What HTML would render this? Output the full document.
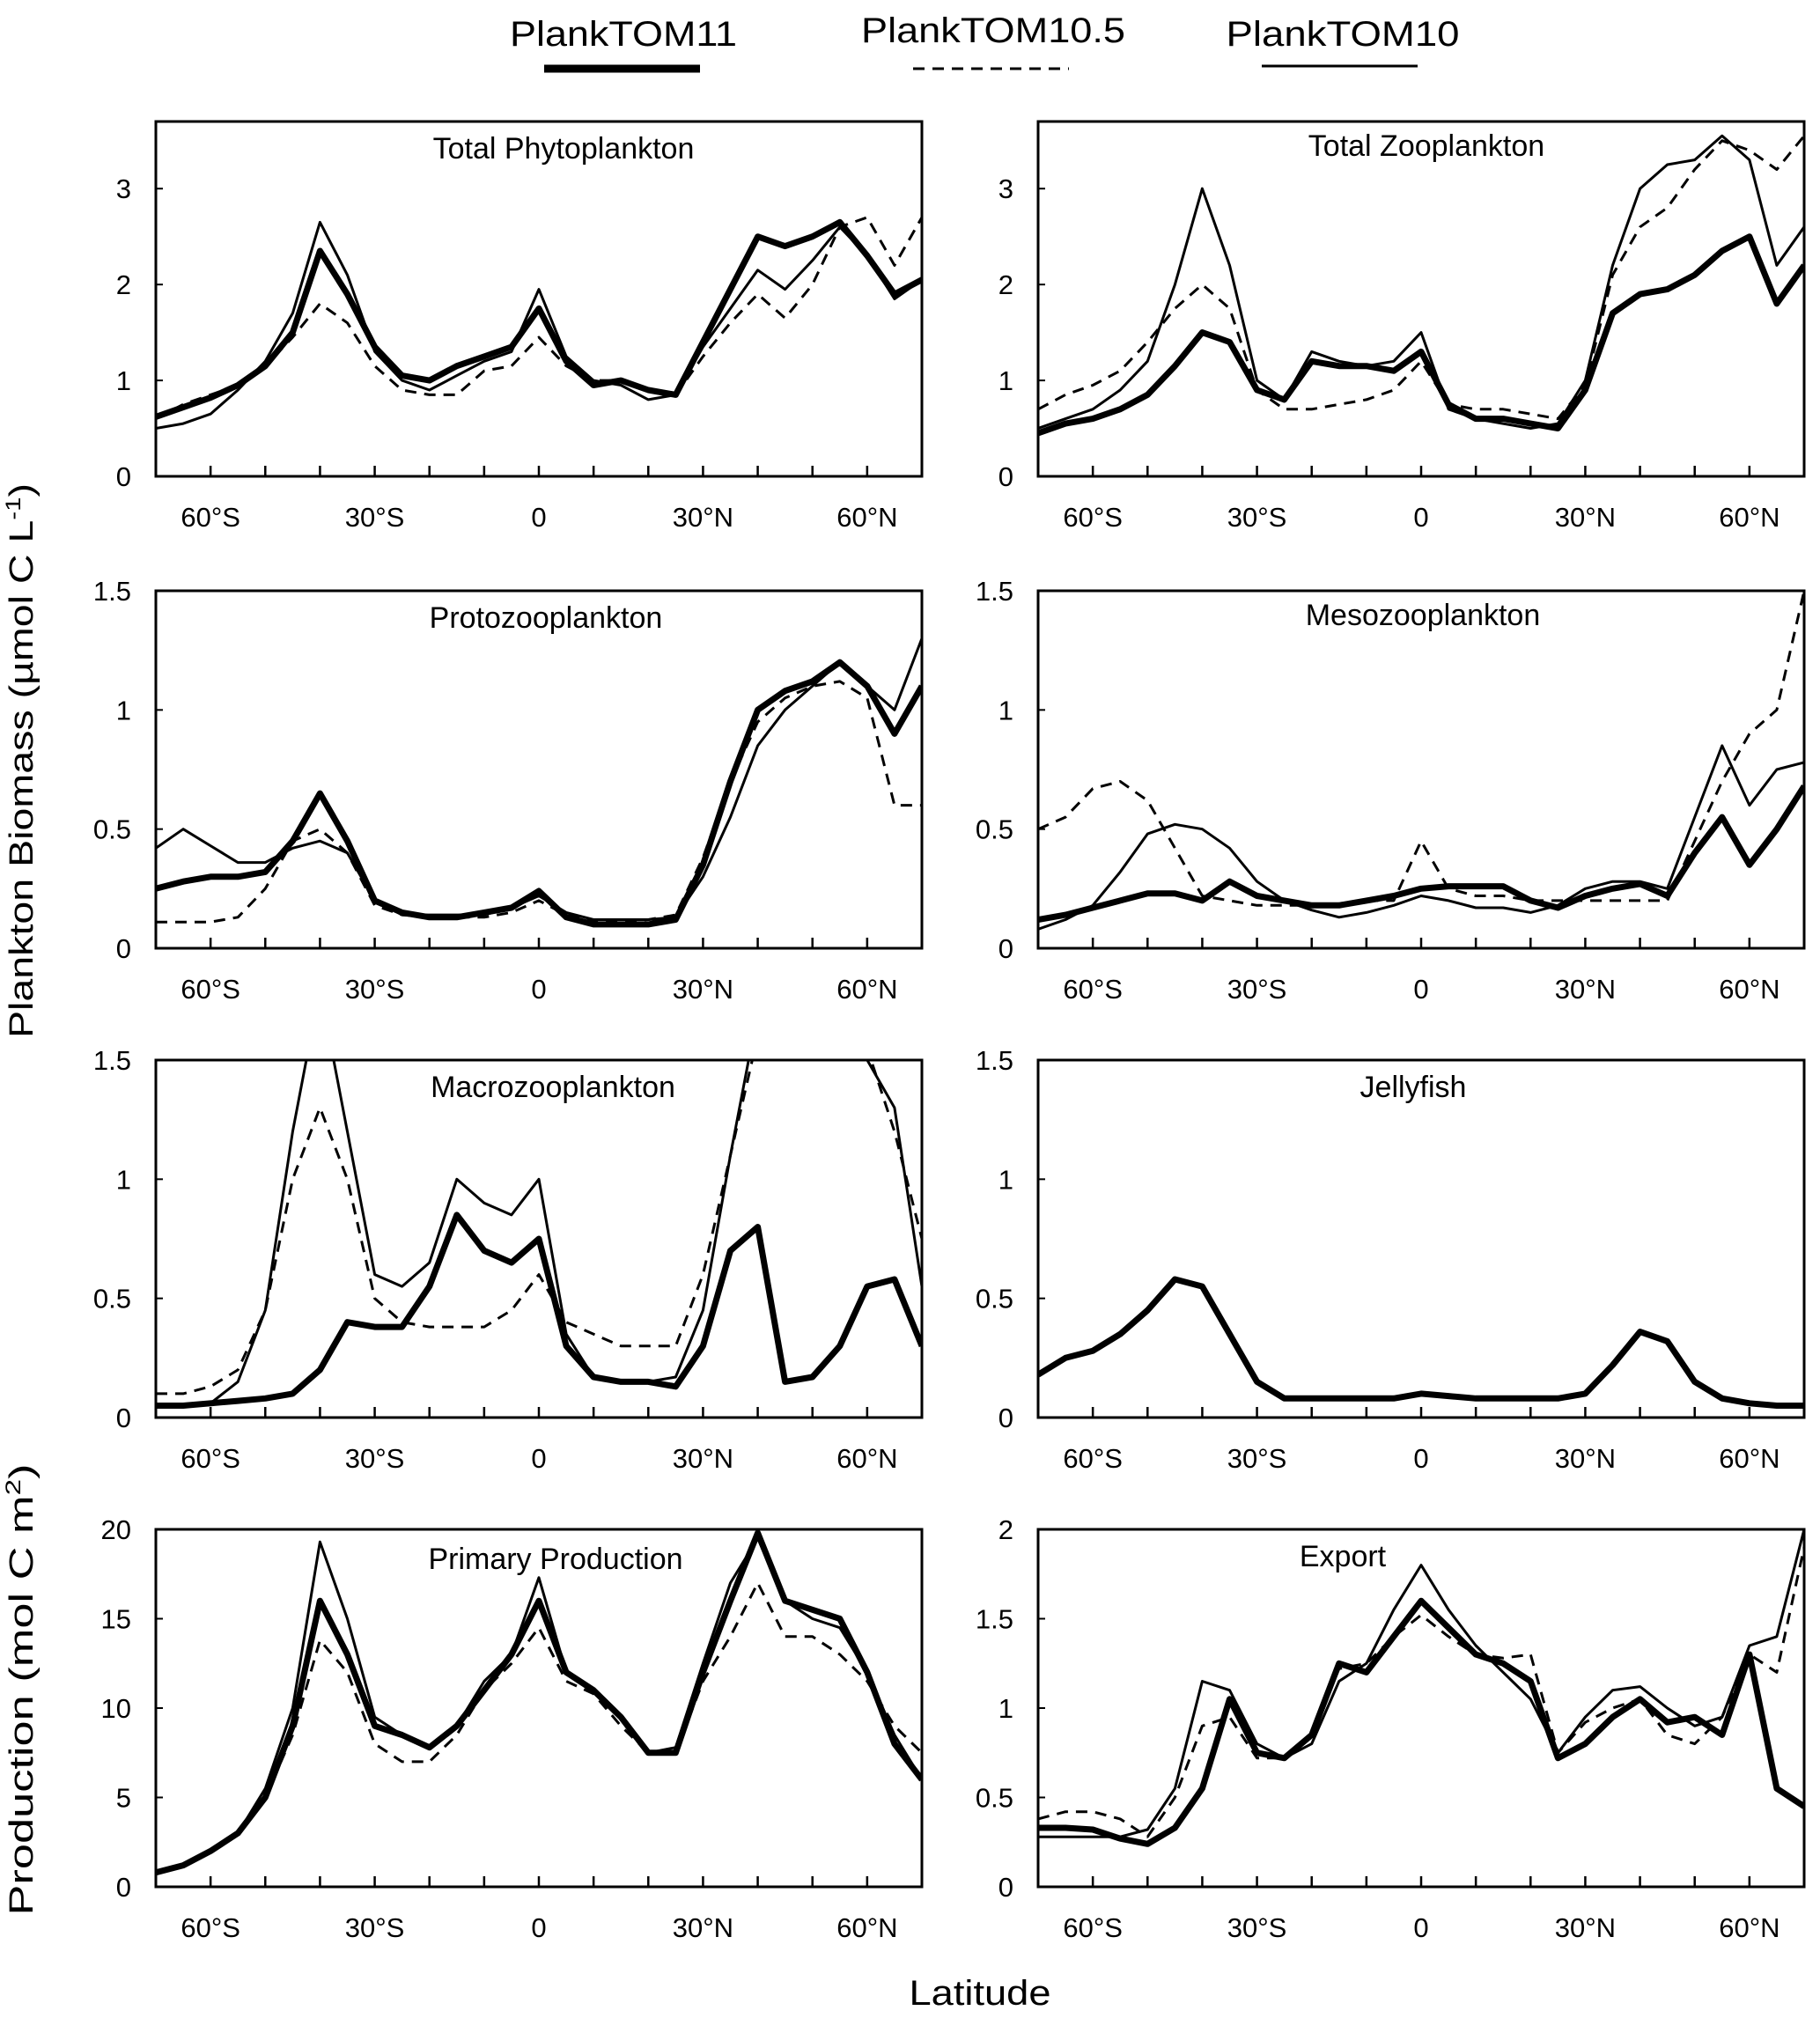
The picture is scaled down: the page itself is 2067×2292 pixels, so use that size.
<!DOCTYPE html>
<html><head><meta charset="utf-8"><style>
html,body{margin:0;padding:0;background:#fff;}
svg{display:block;}
text{font-family:"Liberation Sans Narrow","Liberation Sans",sans-serif;fill:#000;}
</style></head><body>
<svg id="fig" width="2067" height="2292" viewBox="0 0 2067 2292" xmlns="http://www.w3.org/2000/svg">
<g>
<text x="708" y="52" font-size="40" text-anchor="middle" textLength="258" lengthAdjust="spacingAndGlyphs">PlankTOM11</text>
<line x1="618" y1="78" x2="795" y2="78" stroke="#000" stroke-width="9"/>
<text x="1128" y="48" font-size="40" text-anchor="middle" textLength="300" lengthAdjust="spacingAndGlyphs">PlankTOM10.5</text>
<line x1="1037" y1="78" x2="1214" y2="78" stroke="#000" stroke-width="3" stroke-dasharray="13,9"/>
<text x="1525" y="52" font-size="40" text-anchor="middle" textLength="265" lengthAdjust="spacingAndGlyphs">PlankTOM10</text>
<line x1="1433" y1="75" x2="1610" y2="75" stroke="#000" stroke-width="3"/>
</g>
<text x="37" y="864" font-size="38" text-anchor="middle" transform="rotate(-90 37 864)" textLength="630" lengthAdjust="spacingAndGlyphs">Plankton Biomass (µmol C L<tspan font-size="24" dy="-14">-1</tspan><tspan dy="14">)</tspan></text>
<text x="37" y="1919" font-size="38" text-anchor="middle" transform="rotate(-90 37 1919)" textLength="513" lengthAdjust="spacingAndGlyphs">Production (mol C m<tspan font-size="24" dy="-14">2</tspan><tspan dy="14">)</tspan></text>
<text x="1113" y="2277" font-size="40" text-anchor="middle" textLength="161" lengthAdjust="spacingAndGlyphs">Latitude</text>
</svg>
<script>
const LATS=[-70,-65,-60,-55,-50,-45,-40,-35,-30,-25,-20,-15,-10,-5,0,5,10,15,20,25,30,35,40,45,50,55,60,65,70];
const XTICKS=[-60,-50,-40,-30,-20,-10,0,10,20,30,40,50,60];
const XLABELS=[[-60,"60°S"],[-30,"30°S"],[0,"0"],[30,"30°N"],[60,"60°N"]];

const phyto11=[0.62,0.72,0.82,0.95,1.15,1.5,2.35,1.9,1.35,1.05,1.0,1.15,1.25,1.35,1.75,1.2,0.95,1.0,0.9,0.85,1.4,1.95,2.5,2.4,2.5,2.65,2.3,1.9,2.05];
const phyto105=[0.6,0.75,0.85,0.95,1.15,1.45,1.8,1.6,1.15,0.9,0.85,0.85,1.1,1.15,1.45,1.15,1.0,1.0,0.9,0.85,1.25,1.6,1.9,1.65,2.0,2.6,2.7,2.2,2.7];
const phyto10=[0.5,0.55,0.65,0.9,1.2,1.7,2.65,2.1,1.3,1.0,0.9,1.05,1.2,1.3,1.95,1.25,1.0,0.95,0.8,0.85,1.35,1.75,2.15,1.95,2.25,2.6,2.3,1.85,2.05];

const zoo11=[0.45,0.55,0.6,0.7,0.85,1.15,1.5,1.4,0.9,0.8,1.2,1.15,1.15,1.1,1.3,0.75,0.6,0.6,0.55,0.5,0.9,1.7,1.9,1.95,2.1,2.35,2.5,1.8,2.2];
const zoo105=[0.7,0.85,0.95,1.1,1.4,1.75,2.0,1.75,0.9,0.7,0.7,0.75,0.8,0.9,1.2,0.75,0.7,0.7,0.65,0.6,0.95,2.1,2.6,2.8,3.2,3.5,3.4,3.2,3.55];
const zoo10=[0.5,0.6,0.7,0.9,1.2,2.0,3.0,2.2,1.0,0.8,1.3,1.2,1.15,1.2,1.5,0.7,0.6,0.55,0.5,0.55,1.0,2.2,3.0,3.25,3.3,3.55,3.3,2.2,2.6];

const proto11=[0.25,0.28,0.3,0.3,0.32,0.45,0.65,0.45,0.2,0.15,0.13,0.13,0.15,0.17,0.24,0.13,0.1,0.1,0.1,0.12,0.35,0.7,1.0,1.08,1.12,1.2,1.1,0.9,1.1];
const proto105=[0.11,0.11,0.11,0.13,0.25,0.45,0.5,0.4,0.18,0.14,0.13,0.13,0.13,0.15,0.2,0.14,0.11,0.11,0.12,0.14,0.38,0.7,0.95,1.05,1.1,1.12,1.05,0.6,0.6];
const proto10=[0.42,0.5,0.43,0.36,0.36,0.42,0.45,0.4,0.2,0.14,0.14,0.14,0.14,0.17,0.22,0.15,0.12,0.12,0.12,0.13,0.3,0.55,0.85,1.0,1.1,1.2,1.1,1.0,1.3];

const meso11=[0.12,0.14,0.17,0.2,0.23,0.23,0.2,0.28,0.22,0.2,0.18,0.18,0.2,0.22,0.25,0.26,0.26,0.26,0.2,0.17,0.22,0.25,0.27,0.22,0.4,0.55,0.35,0.5,0.68];
const meso105=[0.5,0.55,0.67,0.7,0.62,0.42,0.22,0.2,0.18,0.18,0.18,0.18,0.2,0.2,0.45,0.25,0.22,0.22,0.2,0.2,0.2,0.2,0.2,0.2,0.45,0.7,0.9,1.0,1.5];
const meso10=[0.08,0.12,0.18,0.32,0.48,0.52,0.5,0.42,0.28,0.2,0.16,0.13,0.15,0.18,0.22,0.2,0.17,0.17,0.15,0.18,0.25,0.28,0.28,0.25,0.55,0.85,0.6,0.75,0.78];

const macro11=[0.05,0.05,0.06,0.07,0.08,0.1,0.2,0.4,0.38,0.38,0.55,0.85,0.7,0.65,0.75,0.3,0.17,0.15,0.15,0.13,0.3,0.7,0.8,0.15,0.17,0.3,0.55,0.58,0.3];
const macro105=[0.1,0.1,0.13,0.2,0.45,1.0,1.3,1.0,0.5,0.4,0.38,0.38,0.38,0.45,0.6,0.4,0.35,0.3,0.3,0.3,0.6,1.1,1.6,2.0,2.0,2.0,1.55,1.2,0.75];
const macro10=[0.05,0.05,0.06,0.15,0.45,1.2,1.8,1.2,0.6,0.55,0.65,1.0,0.9,0.85,1.0,0.35,0.17,0.15,0.15,0.17,0.45,1.1,1.7,2.0,2.0,2.0,1.5,1.3,0.55];

const jelly11=[0.18,0.25,0.28,0.35,0.45,0.58,0.55,0.35,0.15,0.08,0.08,0.08,0.08,0.08,0.1,0.09,0.08,0.08,0.08,0.08,0.1,0.22,0.36,0.32,0.15,0.08,0.06,0.05,0.05];

const pp11=[0.8,1.2,2.0,3.0,5.0,9.0,16.0,13.0,9.0,8.5,7.8,9.0,11.0,13.0,16.0,12.0,11.0,9.5,7.5,7.5,12.0,16.0,19.8,16.0,15.5,15.0,12.0,8.0,6.0];
const pp105=[0.8,1.2,2.0,3.0,5.0,8.5,13.8,12.0,8.0,7.0,7.0,8.5,11.0,12.5,14.5,11.5,10.8,9.0,7.5,7.5,11.5,14.0,17.0,14.0,14.0,13.0,11.5,9.0,7.5];
const pp10=[0.8,1.2,2.0,3.0,5.5,10.0,19.3,15.0,9.5,8.5,7.8,9.0,11.5,13.0,17.3,12.0,11.0,9.5,7.5,7.8,12.5,17.0,19.5,16.0,15.0,14.5,12.0,8.5,6.0];

const exp11=[0.33,0.33,0.32,0.27,0.24,0.33,0.55,1.05,0.75,0.72,0.85,1.25,1.2,1.4,1.6,1.45,1.3,1.25,1.15,0.72,0.8,0.95,1.05,0.92,0.95,0.85,1.3,0.55,0.45];
const exp105=[0.38,0.42,0.42,0.38,0.28,0.5,0.9,0.95,0.72,0.72,0.85,1.22,1.25,1.4,1.52,1.4,1.3,1.28,1.3,0.75,0.92,1.0,1.05,0.85,0.8,0.95,1.3,1.2,1.9];
const exp10=[0.28,0.28,0.28,0.28,0.32,0.55,1.15,1.1,0.8,0.72,0.8,1.15,1.25,1.55,1.8,1.55,1.35,1.2,1.05,0.75,0.95,1.1,1.12,1.0,0.9,0.95,1.35,1.4,2.0];

const PANELS=[
 {id:"total-phytoplankton",title:"Total Phytoplankton",col:0,row:0,ymax:3.7,ticks:[0,1,2,3],s11:phyto11,s105:phyto105,s10:phyto10,tx:640,ty:180},
 {id:"total-zooplankton",title:"Total Zooplankton",col:1,row:0,ymax:3.7,ticks:[0,1,2,3],s11:zoo11,s105:zoo105,s10:zoo10,tx:1620,ty:177},
 {id:"protozooplankton",title:"Protozooplankton",col:0,row:1,ymax:1.5,ticks:[0,0.5,1,1.5],s11:proto11,s105:proto105,s10:proto10,tx:620,ty:713},
 {id:"mesozooplankton",title:"Mesozooplankton",col:1,row:1,ymax:1.5,ticks:[0,0.5,1,1.5],s11:meso11,s105:meso105,s10:meso10,tx:1616,ty:710},
 {id:"macrozooplankton",title:"Macrozooplankton",col:0,row:2,ymax:1.5,ticks:[0,0.5,1,1.5],s11:macro11,s105:macro105,s10:macro10,tx:628,ty:1246},
 {id:"jellyfish",title:"Jellyfish",col:1,row:2,ymax:1.5,ticks:[0,0.5,1,1.5],s11:jelly11,s105:null,s10:null,tx:1605,ty:1246},
 {id:"primary-production",title:"Primary Production",col:0,row:3,ymax:20,ticks:[0,5,10,15,20],s11:pp11,s105:pp105,s10:pp10,tx:631,ty:1782},
 {id:"export",title:"Export",col:1,row:3,ymax:2,ticks:[0,0.5,1,1.5,2],s11:exp11,s105:exp105,s10:exp10,tx:1525,ty:1779}
];
const COLX=[[177,1047],[1179,2049]];
const ROWY=[[138,541],[671,1077],[1204,1610],[1737,2143]];
const NS="http://www.w3.org/2000/svg";
const svg=document.getElementById('fig');
function mk(tag,attrs,parent){const e=document.createElementNS(NS,tag);for(const k in attrs)e.setAttribute(k,attrs[k]);parent.appendChild(e);return e;}
PANELS.forEach((p,pi)=>{
 const x0=COLX[p.col][0],x1=COLX[p.col][1],y0=ROWY[p.row][0],y1=ROWY[p.row][1];
 const xs=lat=>x0+(lat+70)/140*(x1-x0);
 const ys=v=>y1-v/p.ymax*(y1-y0);
 const g=mk('g',{},svg);
 
 
 const cp=mk('clipPath',{id:'cp'+pi},g);
 mk('rect',{x:x0,y:y0,width:x1-x0,height:y1-y0},cp);
 function line(arr,w,dash,name){
  if(!arr)return;
  const d=arr.map((v,i)=>(i?'L':'M')+xs(LATS[i]).toFixed(1)+','+ys(v).toFixed(1)).join(' ');
  const a={d:d,fill:'none',stroke:'#000','stroke-width':w,'stroke-linejoin':'round','clip-path':'url(#cp'+pi+')'};
  if(dash)a['stroke-dasharray']=dash;
  const path=mk('path',a,g);
  
  
 }
 line(p.s105,3,'13,9','series-planktom10-5');
 line(p.s10,3,null,'series-planktom10');
 line(p.s11,7,null,'series-planktom11');
 const box=mk('rect',{x:x0,y:y0,width:x1-x0,height:y1-y0,fill:'none',stroke:'#000','stroke-width':3},g);
 
 
 XTICKS.forEach(t=>{
  const tk=mk('line',{x1:xs(t),x2:xs(t),y1:y1,y2:y1-12,stroke:'#000','stroke-width':2.5},g);
  
  
 });
 XLABELS.forEach(l=>{
  const t=mk('text',{x:xs(l[0]),y:y1+57,'font-size':31,'text-anchor':'middle'},g);
  t.textContent=l[1];
  
  
 });
 p.ticks.forEach(v=>{
  const tk=mk('line',{x1:x0,x2:x0+8,y1:ys(v),y2:ys(v),stroke:'#000','stroke-width':2},g);
  
  
  const t=mk('text',{x:x0-28,y:ys(v)+11,'font-size':31,'text-anchor':'end'},g);
  t.textContent=String(v);
  
  
 });
 const tt=mk('text',{x:p.tx,y:p.ty,'font-size':34,'text-anchor':'middle'},g);
 tt.textContent=p.title;
 
 
});
</script>
</body></html>
